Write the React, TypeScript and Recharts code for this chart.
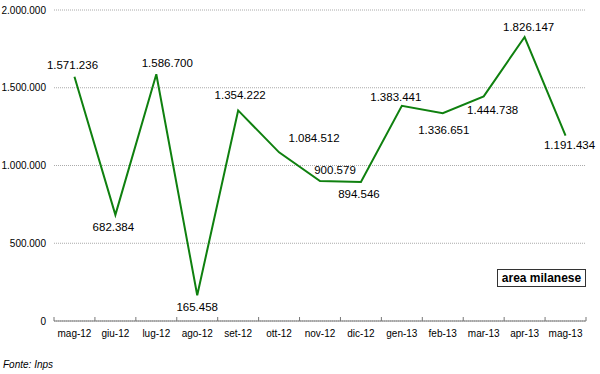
import { CartesianGrid, LabelList, Line, LineChart, XAxis, YAxis } from "recharts"

const months = [
    "mag-12", "giu-12", "lug-12", "ago-12", "set-12", "ott-12", "nov-12",
    "dic-12", "gen-13", "feb-13", "mar-13", "apr-13", "mag-13",
]

const values = [
    1571236, 682384, 1586700, 165458, 1354222, 1084512, 900579,
    894546, 1383441, 1336651, 1444738, 1826147, 1191434,
]

const yTicks = [0, 500000, 1000000, 1500000, 2000000]

const data = months.map((name, i) => ({ name, value: values[i] }))

// where each value label sits relative to its point (text centre)
const labelOffsets = [
    [-2, -12], [-2, 12], [11, -11], [0, 12], [2, -15], [35, -14], [15, -11],
    [-2, 12], [-6, -9], [1, 17], [9, 14], [4, -10], [4, 9],
]

const font = "'Liberation Sans', Arial, sans-serif"
const green = "#0f800f"
const band = 532 / months.length

const fmt = (v: number) => String(v).replace(/\B(?=(\d{3})+(?!\d))/g, ".")

const XTick = (props: any) => {
    const { x, y, payload, index } = props
    const half = band / 2
    return (
        <g>
            <line x1={x - half} x2={x - half} y1={y - 4} y2={y} stroke="#777" />
            {index === months.length - 1 && (
                <line x1={x + half} x2={x + half} y1={y - 4} y2={y} stroke="#777" />
            )}
            <text x={x} y={y + 12} textAnchor="middle" dominantBaseline="central"
                fontSize={10} fill="#000" fontFamily={font}>
                {payload.value}
            </text>
        </g>
    )
}

const ValueLabel = (props: any) => {
    const { x, y, value, index } = props
    const [dx, dy] = labelOffsets[index]
    return (
        <text x={x + dx} y={y + dy} textAnchor="middle" dominantBaseline="central"
            fontSize={11.5} fill="#000" fontFamily={font}>
            {fmt(value)}
        </text>
    )
}

export default function App() {
    return (
        <div style={{ position: "absolute", left: 0, top: 0, width: 600, height: 374, background: "#fff", fontFamily: font }}>
            <LineChart width={600} height={374} data={data}
                margin={{ top: 10, right: 14, bottom: 23, left: 0 }}>
                <CartesianGrid vertical={false} stroke="#aaa" strokeDasharray="1 1" />
                <XAxis
                    dataKey="name"
                    height={30}
                    padding={{ left: band / 2, right: band / 2 }}
                    stroke="#777"
                    tickLine={false}
                    tickSize={0}
                    tickMargin={0}
                    tick={<XTick />}
                    interval={0}
                />
                <YAxis
                    width={54}
                    domain={[0, 2000000]}
                    ticks={yTicks}
                    axisLine={false}
                    tickLine={false}
                    tickSize={0}
                    tickMargin={8}
                    tickFormatter={fmt}
                    tick={{ fontSize: 10, fill: "#000", fontFamily: font }}
                />
                <Line
                    type="linear"
                    dataKey="value"
                    stroke={green}
                    strokeWidth={2}
                    dot={false}
                    isAnimationActive={false}
                >
                    <LabelList dataKey="value" content={<ValueLabel />} />
                </Line>
            </LineChart>
            <div style={{
                position: "absolute", left: 497, top: 269, width: 89, height: 18,
                border: "1px solid #333", boxSizing: "border-box", fontWeight: "bold",
                fontSize: 12, lineHeight: "16px", textAlign: "center", color: "#000",
            }}>
                area milanese
            </div>
            <div style={{
                position: "absolute", left: 3, top: 359, fontStyle: "italic",
                fontSize: 10, color: "#000",
            }}>
                Fonte: Inps
            </div>
        </div>
    )
}
